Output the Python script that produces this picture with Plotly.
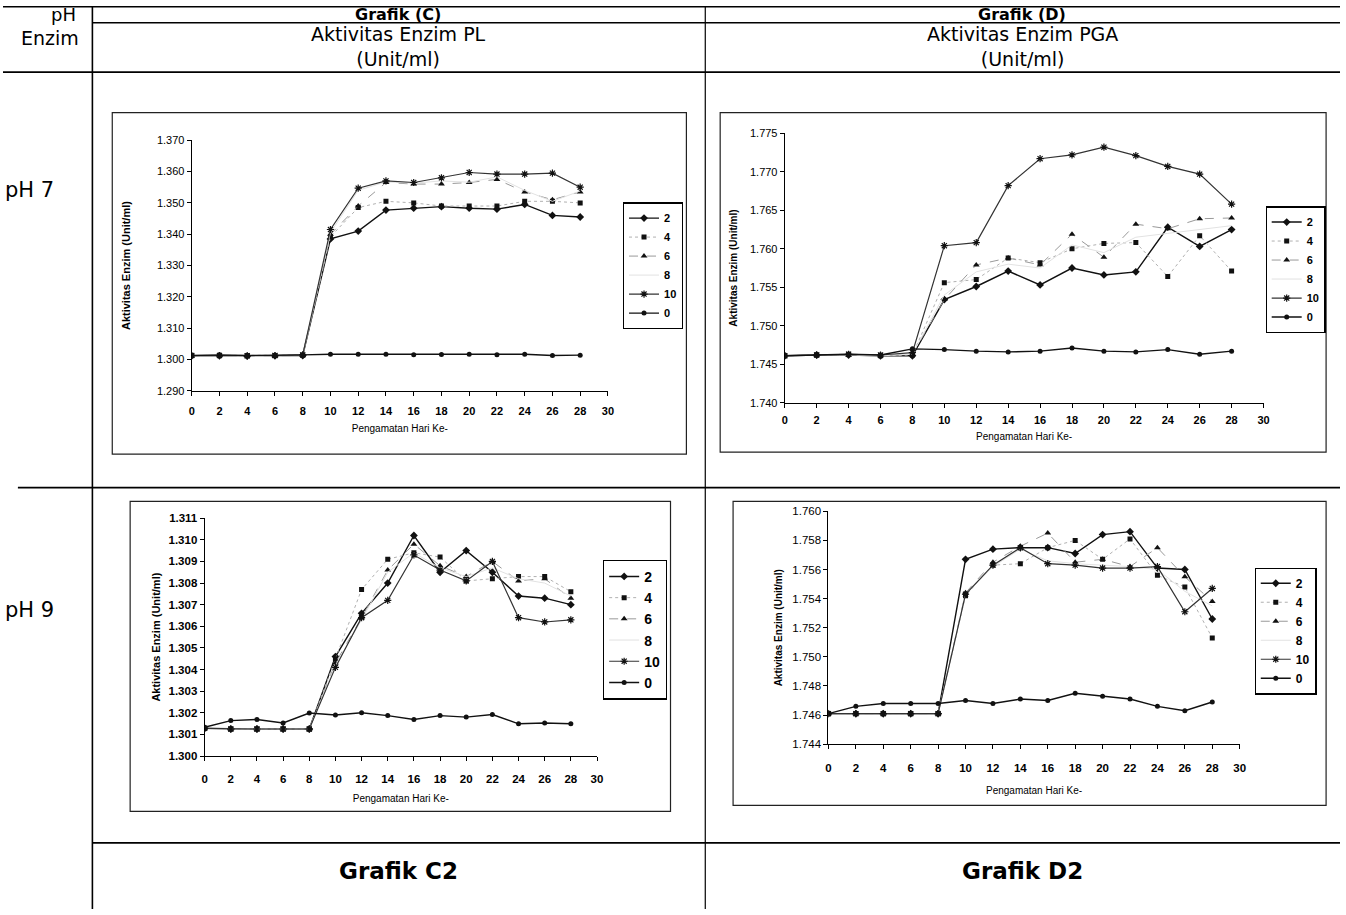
import plotly.graph_objects as go

W, H = 1346, 915

days = [0, 2, 4, 6, 8, 10, 12, 14, 16, 18, 20, 22, 24, 26, 28]
series_names = ["2", "4", "6", "8", "10", "0"]

# Grafik (C) - pH 7, PL activity
c_ph7 = {
    "2":  [1.3012, 1.3012, 1.3011, 1.3012, 1.3013, 1.3385, 1.3410, 1.3477, 1.3483, 1.3488, 1.3483, 1.3480, 1.3495, 1.3460, 1.3455],
    "4":  [1.3013, 1.3013, 1.3012, 1.3013, 1.3014, 1.3392, 1.3485, 1.3505, 1.3500, 1.3490, 1.3490, 1.3490, 1.3505, 1.3505, 1.3500],
    "6":  [1.3012, 1.3013, 1.3012, 1.3012, 1.3013, 1.3400, 1.3490, 1.3565, 1.3560, 1.3560, 1.3565, 1.3575, 1.3535, 1.3510, 1.3535],
    "8":  [1.3012, 1.3012, 1.3012, 1.3012, 1.3014, 1.3405, 1.3540, 1.3567, 1.3563, 1.3570, 1.3566, 1.3583, 1.3540, 1.3505, 1.3538],
    "10": [1.3013, 1.3013, 1.3012, 1.3013, 1.3015, 1.3415, 1.3547, 1.3570, 1.3565, 1.3580, 1.3597, 1.3592, 1.3592, 1.3595, 1.3550],
    "0":  [1.3013, 1.3015, 1.3013, 1.3013, 1.3015, 1.3017, 1.3017, 1.3017, 1.3015, 1.3016, 1.3017, 1.3015, 1.3017, 1.3013, 1.3014],
}

# Grafik (D) - pH 7, PGA activity
d_ph7 = {
    "2":  [1.7461, 1.7462, 1.7462, 1.7461, 1.7461, 1.7534, 1.7551, 1.7571, 1.7553, 1.7575, 1.7566, 1.7570, 1.7628, 1.7603, 1.7625],
    "4":  [1.7461, 1.7462, 1.7463, 1.7461, 1.7462, 1.7556, 1.7560, 1.7588, 1.7582, 1.7600, 1.7607, 1.7608, 1.7564, 1.7617, 1.7571],
    "6":  [1.7461, 1.7462, 1.7462, 1.7461, 1.7463, 1.7534, 1.7579, 1.7588, 1.7579, 1.7619, 1.7589, 1.7632, 1.7626, 1.7639, 1.7640],
    "8":  [1.7461, 1.7462, 1.7462, 1.7461, 1.7463, 1.7540, 1.7570, 1.7580, 1.7575, 1.7605, 1.7595, 1.7615, 1.7620, 1.7625, 1.7630],
    "10": [1.7461, 1.7462, 1.7463, 1.7462, 1.7465, 1.7604, 1.7608, 1.7682, 1.7717, 1.7722, 1.7732, 1.7721, 1.7707, 1.7697, 1.7658],
    "0":  [1.7461, 1.7462, 1.7463, 1.7462, 1.7470, 1.7469, 1.7467, 1.7466, 1.7467, 1.7471, 1.7467, 1.7466, 1.7469, 1.7463, 1.7467],
}

# Grafik C2 - pH 9, PL activity
c_ph9 = {
    "2":  [1.30128, 1.30125, 1.30125, 1.30125, 1.30125, 1.3046, 1.3066, 1.3080, 1.3102, 1.3085, 1.3095, 1.3085, 1.3074, 1.3073, 1.3070],
    "4":  [1.30128, 1.30125, 1.30125, 1.30125, 1.30125, 1.3045, 1.3077, 1.3091, 1.3094, 1.3092, 1.3081, 1.3082, 1.3083, 1.3083, 1.3076],
    "6":  [1.30128, 1.30125, 1.30125, 1.30125, 1.30125, 1.3043, 1.3064, 1.3086, 1.3098, 1.3088, 1.3083, 1.3090, 1.3081, 1.3082, 1.3073],
    "8":  [1.30128, 1.30125, 1.30125, 1.30125, 1.30125, 1.3042, 1.3063, 1.3085, 1.3094, 1.3087, 1.3083, 1.3087, 1.3082, 1.3080, 1.3074],
    "10": [1.30128, 1.30125, 1.30125, 1.30125, 1.30125, 1.3041, 1.3064, 1.3072, 1.3093, 1.3086, 1.3081, 1.3090, 1.3064, 1.3062, 1.3063],
    "0":  [1.30133, 1.30164, 1.30169, 1.30153, 1.30199, 1.30190, 1.30200, 1.30187, 1.30169, 1.30187, 1.30180, 1.30192, 1.30149, 1.30153, 1.30149],
}

# Grafik D2 - pH 9, PGA activity
d_ph9 = {
    "2":  [1.7461, 1.7461, 1.7461, 1.7461, 1.7461, 1.7567, 1.7574, 1.7575, 1.7575, 1.7571, 1.7584, 1.7586, 1.7561, 1.7560, 1.7526],
    "4":  [1.7461, 1.7461, 1.7461, 1.7461, 1.7461, 1.7542, 1.7563, 1.7564, 1.7575, 1.7580, 1.7567, 1.7581, 1.7556, 1.7548, 1.7513],
    "6":  [1.7461, 1.7461, 1.7461, 1.7461, 1.7461, 1.7544, 1.7565, 1.7576, 1.7585, 1.7565, 1.7567, 1.7562, 1.7575, 1.7555, 1.7538],
    "8":  [1.7461, 1.7461, 1.7461, 1.7461, 1.7461, 1.7543, 1.7562, 1.7574, 1.7566, 1.7564, 1.7563, 1.7562, 1.7560, 1.7545, 1.7535],
    "10": [1.7461, 1.7461, 1.7461, 1.7461, 1.7461, 1.7543, 1.7563, 1.7575, 1.7564, 1.7563, 1.7561, 1.7561, 1.7562, 1.7531, 1.7547],
    "0":  [1.7461, 1.7466, 1.7468, 1.7468, 1.7468, 1.7470, 1.7468, 1.7471, 1.7470, 1.7475, 1.7473, 1.7471, 1.7466, 1.7463, 1.7469],
}

FONT = "Arial, Liberation Sans, sans-serif"
HFONT = "DejaVu Sans, Arial, sans-serif"

styles = {
    "2":  dict(mode="lines+markers", line=dict(color="#111", width=1.4),
               marker=dict(symbol="diamond", size=6, color="#111")),
    "4":  dict(mode="lines+markers", line=dict(color="#b0b0b0", width=1, dash="dot"),
               marker=dict(symbol="square", size=5, color="#111")),
    "6":  dict(mode="lines+markers", line=dict(color="#999", width=1, dash="dash"),
               marker=dict(symbol="triangle-up", size=6, color="#111")),
    "8":  dict(mode="lines", line=dict(color="#e2e2e2", width=1)),
    "10": dict(mode="lines+markers", line=dict(color="#333", width=1.2),
               marker=dict(symbol="asterisk-open", size=6, color="#111", line=dict(width=1.2, color="#111"))),
    "0":  dict(mode="lines+markers", line=dict(color="#111", width=1.4),
               marker=dict(symbol="circle", size=5, color="#111")),
}


def px(x):
    return x / W


def py(y):
    return 1 - y / H


# chart definitions: data, axis suffix, plot area (pixels), y range, dtick, legend box
charts = [
    dict(data=c_ph7, ax="", plot=(190, 136, 609, 390), yr=(1.290, 1.370), dt=0.01,
         leg=(624, 199), legfont=11, box=(110, 108, 688, 454),
         ytick_bold=False, tsize=11, ystand=24, xstand=8, tlab=6, ttsize=11),
    dict(data=d_ph7, ax="2", plot=(787, 129, 1269, 402), yr=(1.740, 1.775), dt=0.005,
         leg=(1271, 203), legfont=11, box=(722, 108, 1332, 452),
         ytick_bold=False, tsize=11, ystand=10, xstand=7, tlab=3, ttsize=10),
    dict(data=c_ph9, ax="3", plot=(203, 519, 598, 760), yr=(1.300, 1.311), dt=0.001,
         leg=(604, 561), legfont=14, box=(128, 502, 672, 816),
         ytick_bold=True, tsize=11.5, ystand=5, xstand=11, tlab=8, ttsize=11),
    dict(data=d_ph9, ax="4", plot=(831, 512, 1245, 748), yr=(1.744, 1.760), dt=0.002,
         leg=(1260, 569), legfont=12, box=(735, 502, 1332, 810),
         ytick_bold=False, tsize=11.5, ystand=7, xstand=13, tlab=9, ttsize=10),
]

fig = go.Figure()
layout = dict(
    width=W, height=H, margin=dict(l=0, r=0, t=0, b=0),
    paper_bgcolor="white", plot_bgcolor="white",
    font=dict(family=FONT, color="#000"),
)
shapes = []
annotations = []

for i, ch in enumerate(charts):
    sfx = ch["ax"]
    legname = "legend" if i == 0 else f"legend{i + 1}"
    for name in series_names:
        st = styles[name]
        fig.add_trace(go.Scatter(
            x=days, y=ch["data"][name], name=name,
            xaxis="x" + sfx, yaxis="y" + sfx, legend=legname,
            **st))
    x0, y0, x1, y1 = ch["plot"]
    xa = "xaxis" + sfx
    ya = "yaxis" + sfx
    layout[xa] = dict(
        domain=[px(x0), px(x1)], anchor="y" + sfx, range=[0, 30], dtick=2, tick0=0,
        showgrid=False, zeroline=False, showline=True, linecolor="#000", linewidth=1.3,
        ticks="outside", ticklen=4, tickcolor="#000", ticklabelstandoff=ch["tlab"],
        tickfont=dict(size=ch["tsize"], family=FONT, color="#000", weight="bold"),
        title=dict(text="Pengamatan Hari Ke-", font=dict(size=10, family=FONT, color="#000"),
                   standoff=ch["xstand"]),
    )
    layout[ya] = dict(
        domain=[py(y1), py(y0)], anchor="x" + sfx, range=list(ch["yr"]), dtick=ch["dt"],
        tick0=ch["yr"][0], tickformat=".3f",
        showgrid=False, zeroline=False, showline=True, linecolor="#000", linewidth=1.1,
        ticks="outside", ticklen=4, tickcolor="#000",
        tickfont=dict(size=ch["tsize"], family=FONT, color="#000",
                      weight="bold" if ch["ytick_bold"] else "normal"),
        title=dict(text="Aktivitas Enzim (Unit/ml)",
                   font=dict(size=ch["ttsize"], family=FONT, color="#000", weight="bold"),
                   standoff=ch["ystand"]),
    )
    lx, ly = ch["leg"]
    layout[legname] = dict(
        x=px(lx), y=py(ly), xanchor="left", yanchor="top",
        bordercolor="#000", borderwidth=1.2, bgcolor="white",
        font=dict(size=ch["legfont"], family=FONT, color="#000", weight="bold"),
        itemwidth=30, tracegroupgap=0,
    )
    bx0, by0, bx1, by1 = ch["box"]
    shapes.append(dict(type="rect", xref="paper", yref="paper",
                       x0=px(bx0), x1=px(bx1), y0=py(by1), y1=py(by0),
                       line=dict(color="#222", width=1.2), layer="below"))


# Table rules
def hline(y, xa, xb, w=1.6):
    shapes.append(dict(type="line", xref="paper", yref="paper",
                       x0=px(xa), x1=px(xb), y0=py(y), y1=py(y),
                       line=dict(color="#000", width=w)))


def vline(x, ya, yb, w=1.6):
    shapes.append(dict(type="line", xref="paper", yref="paper",
                       x0=px(x), x1=px(x), y0=py(ya), y1=py(yb),
                       line=dict(color="#000", width=w)))


hline(0.8, 0, W)
hline(17, 90, W)
hline(67, 0, W)
hline(488, 15, W)
hline(848, 90, W)
vline(90, 0, H)
vline(707, 0, H, w=1.2)


def text(t, x, y, size, bold=False, xanchor="center", family=HFONT):
    annotations.append(dict(
        text=t, x=px(x), y=py(y), xref="paper", yref="paper",
        xanchor=xanchor, yanchor="middle", showarrow=False,
        font=dict(size=size, family=family, color="#000", weight="bold" if bold else "normal")))


text("pH", 46, 8.5, 18, xanchor="left")
text("Enzim", 79, 32, 19, xanchor="right")
text("Grafik (C)", 398, 8.5, 16, bold=True)
text("Aktivitas Enzim PL<br>(Unit/ml)", 398, 41.5, 19)
text("Grafik (D)", 1026, 8.5, 16, bold=True)
text("Aktivitas Enzim PGA<br>(Unit/ml)", 1026, 41.5, 19)
text("pH 7", 0, 186, 21, xanchor="left")
text("pH 9", 0, 612, 21, xanchor="left")
text("Grafik C2", 398, 877, 23, bold=True)
text("Grafik D2", 1026, 877, 23, bold=True)

layout["shapes"] = shapes
layout["annotations"] = annotations
fig.update_layout(**layout)

fig.write_html("out.html")
